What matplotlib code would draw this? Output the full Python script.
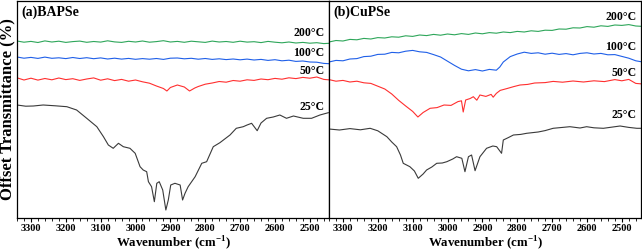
import matplotlib
matplotlib.use("Agg")
import matplotlib.pyplot as plt
from matplotlib.ticker import MultipleLocator

plt.rcParams['font.family'] = ['Liberation Serif', 'DejaVu Serif']
plt.rcParams['font.weight'] = 'bold'
plt.rcParams['mathtext.fontset'] = 'custom'
plt.rcParams['mathtext.rm'] = 'Liberation Serif:bold'
plt.rcParams['mathtext.bf'] = 'Liberation Serif:bold'

# ---------------- data (offset transmittance, arbitrary units) ----------------
grid = [3340, 3320, 3300, 3280, 3260, 3240, 3220, 3200, 3180, 3160, 3140, 3120,
        3100, 3080, 3060, 3040, 3020, 3000, 2980, 2960, 2940, 2920, 2900, 2880,
        2860, 2840, 2820, 2800, 2780, 2760, 2740, 2720, 2700, 2680, 2660, 2640,
        2620, 2600, 2580, 2560, 2540, 2520, 2500, 2480, 2460, 2440]

# Panel (a) BAPSe
a200 = [177.0, 175.8, 176.6, 175.5, 177.1, 176.0, 176.8, 175.6, 176.4, 176.9, 175.7, 176.5,
        175.9, 177.2, 176.1, 175.6, 176.7, 176.0, 177.0, 175.8, 176.4, 177.3, 176.0, 176.6,
        175.7, 176.8, 176.2, 175.6, 176.9, 176.0, 176.5, 175.7, 176.8, 175.9, 176.3, 175.4,
        176.6, 175.8, 175.2, 176.0, 175.0, 175.6, 174.8, 175.3, 174.4, 174.8]
a100 = [161.0, 159.8, 160.6, 159.6, 160.9, 159.7, 160.2, 159.4, 160.5, 159.5, 160.3, 159.3,
        160.1, 159.0, 159.8, 158.9, 159.6, 158.7, 159.4, 158.8, 159.5, 158.6, 159.8, 160.0,
        159.2, 159.7, 158.8, 159.5, 158.6, 159.2, 158.4, 159.0, 158.2, 158.9, 158.0, 158.6,
        157.6, 158.3, 157.2, 157.8, 156.6, 157.0, 156.0, 155.8, 154.6, 154.2]
a50_wn = [3340, 3320, 3300, 3280, 3260, 3240, 3220, 3200, 3180, 3160, 3140, 3120, 3100,
          3080, 3060, 3040, 3020, 3000, 2980, 2960, 2940, 2920, 2910, 2900, 2880, 2860,
          2845, 2830, 2820, 2800, 2780, 2760, 2740, 2720, 2700, 2680, 2660, 2640, 2620,
          2600, 2580, 2560, 2540, 2520, 2500, 2480, 2460, 2440]
a50 = [140.2, 138.0, 139.8, 137.9, 139.5, 138.2, 140.0, 138.4, 139.3, 137.6, 139.0, 140.1, 137.8,
       139.2, 137.4, 138.6, 136.8, 138.0, 136.2, 134.8, 132.0, 129.5, 127.0, 130.5, 133.0, 131.0,
       127.0, 130.0, 131.5, 133.8, 135.0, 136.5, 135.8, 137.5, 136.8, 138.2, 137.6, 139.0, 138.3,
       139.6, 138.8, 140.2, 139.4, 140.6, 139.8, 141.0, 138.6, 138.0]
a25_wn = [3340, 3315, 3293, 3265, 3230, 3197, 3169, 3140, 3111, 3092, 3078, 3064, 3049, 3035,
          3016, 3001, 2987, 2978, 2968, 2963, 2954, 2946, 2939, 2932, 2922, 2913, 2906, 2899,
          2887, 2872, 2865, 2858, 2849, 2829, 2810, 2796, 2777, 2758, 2729, 2711, 2691, 2680,
          2667, 2651, 2640, 2624, 2605, 2586, 2567, 2547, 2519, 2495, 2471, 2447]
a25 = [113.0, 111.8, 112.0, 113.0, 112.2, 111.3, 108.0, 99.7, 91.3, 81.3, 73.0, 69.7, 74.7, 71.3,
       69.7, 64.7, 51.3, 48.0, 46.3, 36.3, 31.3, 16.3, 34.7, 36.3, 28.0, 8.0, 18.0, 33.0,
       34.7, 33.0, 18.0, 24.7, 31.3, 41.3, 54.7, 56.3, 71.3, 75.3, 83.0, 89.7, 91.3, 93.0,
       94.7, 87.3, 95.0, 99.7, 101.0, 103.0, 99.7, 102.0, 99.7, 99.7, 103.0, 105.3]

# Panel (b) CuPSe
b200 = [176.0, 177.5, 177.0, 178.6, 178.2, 179.6, 179.0, 180.4, 180.0, 181.2, 180.8, 182.2,
        181.6, 183.0, 182.4, 183.6, 182.8, 184.0, 183.2, 184.4, 183.6, 185.0, 184.2, 185.4,
        184.8, 186.0, 185.4, 186.6, 186.0, 187.2, 186.6, 187.8, 187.6, 189.0, 188.8, 190.2,
        190.0, 191.4, 190.8, 192.2, 191.6, 193.0, 192.6, 193.4, 192.0, 191.6]
b100_wn = [3340, 3320, 3300, 3280, 3260, 3240, 3220, 3200, 3180, 3160, 3140, 3120, 3100,
           3080, 3060, 3040, 3020, 3000, 2980, 2960, 2940, 2920, 2900, 2880, 2860, 2850,
           2840, 2820, 2800, 2780, 2760, 2740, 2720, 2700, 2680, 2660, 2640, 2620, 2600,
           2580, 2560, 2540, 2520, 2500, 2480, 2460, 2440]
b100 = [156.0, 157.6, 157.2, 159.0, 159.4, 161.4, 161.8, 163.6, 163.8, 165.6, 165.2, 166.8, 167.6,
        166.2, 165.6, 163.4, 161.0, 156.8, 152.6, 148.8, 147.2, 148.4, 147.0, 148.6, 147.8, 151.0,
        156.0, 161.4, 164.0, 165.8, 164.6, 165.2, 163.8, 164.8, 163.6, 164.4, 163.2, 164.6, 165.2,
        164.0, 164.6, 163.2, 163.4, 161.6, 159.8, 157.2, 156.0]
b50_wn = [3340, 3320, 3300, 3280, 3260, 3240, 3220, 3200, 3180, 3160, 3140, 3120, 3100, 3085,
          3070, 3050, 3030, 3010, 2990, 2970, 2960, 2955, 2948, 2935, 2926, 2916, 2907, 2890,
          2875, 2869, 2860, 2849, 2830, 2810, 2792, 2770, 2750, 2720, 2697, 2670, 2640, 2610,
          2580, 2550, 2520, 2500, 2480, 2460, 2440]
b50 = [138.4, 136.8, 137.6, 136.0, 136.8, 135.2, 134.6, 131.8, 129.0, 124.0, 117.6, 112.0, 106.6,
       101.0, 105.5, 109.7, 110.4, 113.0, 112.6, 116.4, 117.2, 106.0, 118.0, 119.5, 121.3, 117.8,
       123.0, 121.6, 123.6, 120.8, 124.6, 127.6, 129.4, 131.4, 133.0, 133.6, 135.0, 135.4, 136.6,
       135.8, 137.0, 136.0, 137.2, 136.4, 138.4, 137.2, 138.6, 134.6, 134.0]
b25_wn = [3340, 3310, 3280, 3250, 3222, 3200, 3174, 3160, 3146, 3135, 3127, 3108, 3095, 3084,
          3070, 3060, 3045, 3031, 3015, 3002, 2985, 2974, 2959, 2950, 2940, 2931, 2921, 2907,
          2888, 2870, 2859, 2845, 2840, 2825, 2811, 2790, 2773, 2740, 2720, 2697, 2670, 2649,
          2620, 2601, 2580, 2553, 2530, 2505, 2480, 2457, 2440]
b25 = [89.0, 88.0, 89.4, 88.2, 89.7, 87.2, 81.3, 76.0, 71.3, 63.0, 54.7, 51.3, 47.0, 39.7,
       44.0, 48.0, 51.0, 54.7, 55.0, 56.3, 59.0, 61.3, 59.7, 46.3, 61.3, 63.0, 47.3, 61.3,
       69.7, 72.0, 71.3, 64.7, 78.0, 80.5, 83.0, 83.6, 84.7, 86.0, 87.4, 89.7, 90.6, 91.3,
       90.0, 91.3, 90.2, 89.7, 90.8, 92.0, 90.6, 89.7, 89.7]

temps = ['200°C', '100°C', '50°C', '25°C']
colors = ['#2ea65a', '#1f5fe8', '#ff2f2f', '#3a3a3a']

panels = [
    ('(a)BAPSe', [(grid, a200), (grid, a100), (a50_wn, a50), (a25_wn, a25)],
     [176.5, 157.5, 139.5, 103.5]),
    ('(b)CuPSe', [(grid, b200), (b100_wn, b100), (b50_wn, b50), (b25_wn, b25)],
     [193.5, 163.5, 137.5, 95.5]),
]

fig = plt.figure(figsize=(6.42, 2.52), dpi=100)
W, H = 642, 252
axes = [fig.add_axes([17 / W, 34 / H, 312 / W, 217 / H]),
        fig.add_axes([329 / W, 34 / H, 312 / W, 217 / H])]

for ax, (title, series, label_y) in zip(axes, panels):
    for (wn, vals), c in zip(series, colors):
        ax.plot(wn, vals, color=c, lw=0.8)
    ax.set_xlim(3340, 2445)
    ax.set_ylim(0, 217)
    ax.set_yticks([])
    ax.xaxis.set_major_locator(MultipleLocator(100))
    ax.xaxis.set_minor_locator(MultipleLocator(20))
    ax.tick_params(axis='x', which='major', direction='out', length=3, width=0.8,
                   labelsize=7.5, pad=1.5)
    ax.tick_params(axis='x', which='minor', direction='out', length=1.8, width=0.6)
    for lab in ax.get_xticklabels():
        lab.set_fontweight('bold')
    for s in ax.spines.values():
        s.set_linewidth(0.9)
    ax.set_xlabel('Wavenumber (cm$^{\\mathbf{-1}}$)', fontsize=9.3, fontweight='bold', labelpad=0.5)
    ax.text(0.015, 0.98, title, transform=ax.transAxes, ha='left', va='top',
            fontsize=10, fontweight='bold')
    for t, y in zip(temps, label_y):
        ax.text(0.985, y + 2, t, transform=ax.get_yaxis_transform(), ha='right', va='bottom',
                fontsize=8.5, fontweight='bold')

axes[0].set_ylabel('Offset Transmittance (%)', fontsize=12, fontweight='bold', labelpad=1.5)

fig.savefig('out.png', dpi=100)
